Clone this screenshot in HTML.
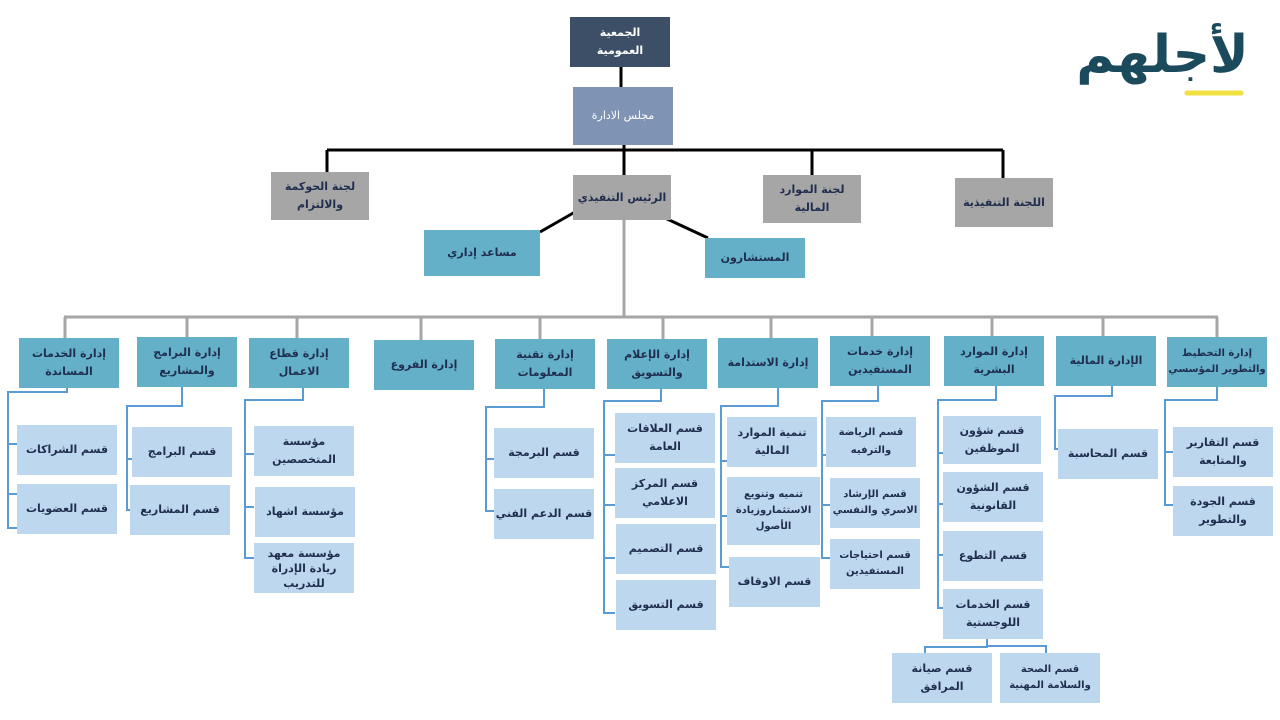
<!DOCTYPE html>
<html><head><meta charset="utf-8"><style>
body{margin:0;width:1280px;height:720px;background:#fff;position:relative;overflow:hidden;font-family:"DejaVu Sans","Liberation Sans",sans-serif}
.b{position:absolute;display:flex;align-items:center;justify-content:center;text-align:center;direction:rtl;font-size:11px;line-height:18px;color:#1f2d4e;font-weight:bold;box-sizing:border-box;padding:0 1px;letter-spacing:-0.2px}
.d{background:#65b0c9}
.l{background:#bdd7ee}
.g{background:#a6a6a6}
svg{position:absolute;left:0;top:0}
</style></head><body>
<svg width="1280" height="720">
<g stroke="#000" stroke-width="3" fill="none">
<line x1="621" y1="67" x2="621" y2="87"/>
<line x1="327" y1="150" x2="1003" y2="150"/>
<line x1="327" y1="150" x2="327" y2="172"/>
<line x1="624" y1="145" x2="624" y2="175"/>
<line x1="812" y1="150" x2="812" y2="175"/>
<line x1="1003" y1="150" x2="1003" y2="178"/>
<line x1="575" y1="212" x2="540" y2="232"/>
<line x1="665" y1="218" x2="708" y2="238"/>
</g>
<g stroke="#a6a6a6" stroke-width="3" fill="none">
<line x1="624" y1="220" x2="624" y2="317"/>
<line x1="64" y1="317" x2="1218" y2="317"/>
<line x1="65" y1="317" x2="65" y2="338"/><line x1="187" y1="317" x2="187" y2="337"/>
<line x1="297" y1="317" x2="297" y2="338"/><line x1="421" y1="317" x2="421" y2="340"/>
<line x1="540" y1="317" x2="540" y2="339"/><line x1="663" y1="317" x2="663" y2="339"/>
<line x1="771" y1="317" x2="771" y2="338"/><line x1="872" y1="317" x2="872" y2="336"/>
<line x1="992" y1="317" x2="992" y2="336"/><line x1="1103" y1="317" x2="1103" y2="336"/>
<line x1="1217" y1="317" x2="1217" y2="337"/>
</g>
<g stroke="#5b9bd5" stroke-width="2" fill="none">
<polyline points="67,388 67,392 8,392 8,528 17,528"/><line x1="8" y1="444" x2="17" y2="444"/><line x1="8" y1="494" x2="17" y2="494"/>
<polyline points="182,387 182,406 127,406 127,510 132,510"/><line x1="127" y1="459" x2="132" y2="459"/>
<polyline points="303,388 303,400 245,400 245,558 254,558"/><line x1="245" y1="454" x2="254" y2="454"/><line x1="245" y1="507" x2="254" y2="507"/>
<polyline points="544,389 544,407 486,407 486,511 494,511"/><line x1="486" y1="459" x2="494" y2="459"/>
<polyline points="661,389 661,401 604,401 604,613 615,613"/><line x1="604" y1="455" x2="615" y2="455"/><line x1="604" y1="505" x2="615" y2="505"/><line x1="604" y1="558" x2="615" y2="558"/>
<polyline points="778,388 778,406 721,406 721,567 729,567"/><line x1="721" y1="461" x2="727" y2="461"/><line x1="721" y1="516" x2="727" y2="516"/>
<polyline points="878,386 878,401 822,401 822,558 830,558"/><line x1="822" y1="455" x2="830" y2="455"/><line x1="822" y1="505" x2="830" y2="505"/>
<polyline points="996,386 996,400 938,400 938,608 943,608"/><line x1="938" y1="453" x2="943" y2="453"/><line x1="938" y1="504" x2="943" y2="504"/><line x1="938" y1="555" x2="943" y2="555"/>
<polyline points="987,639 987,647 925,647 925,653"/><polyline points="987,646 1046,646 1046,653"/>
<polyline points="1112,386 1112,396 1055,396 1055,449 1060,449"/>
<polyline points="1217,387 1217,400 1165,400 1165,505 1173,505"/><line x1="1165" y1="452" x2="1173" y2="452"/>
</g>
<line x1="1187" y1="93" x2="1241" y2="93" stroke="#f0e040" stroke-width="5" stroke-linecap="round"/>
</svg>
<div style="position:absolute;left:1075px;top:18px;width:175px;height:75px;font-size:52px;color:#1b4a5c;font-weight:bold;direction:rtl;text-align:center;line-height:75px">لأجلهم</div>

<div class="b" style="left:570px;top:17px;width:100px;height:50px;background:#3d4f66;color:#fff">الجمعية<br>العمومية</div>
<div class="b" style="left:573px;top:87px;width:100px;height:58px;background:#7f93b5;color:#fff;font-weight:normal">مجلس الادارة</div>
<div class="b g" style="left:271px;top:172px;width:98px;height:48px">لجنة الحوكمة والالتزام</div>
<div class="b g" style="left:573px;top:175px;width:98px;height:45px">الرئيس التنفيذي</div>
<div class="b g" style="left:763px;top:175px;width:98px;height:48px">لجنة الموارد المالية</div>
<div class="b g" style="left:955px;top:178px;width:98px;height:49px">اللجنة التنفيذية</div>
<div class="b d" style="left:424px;top:230px;width:116px;height:46px">مساعد إداري</div>
<div class="b d" style="left:705px;top:238px;width:100px;height:40px">المستشارون</div>

<div class="b d" style="left:19px;top:338px;width:100px;height:50px">إدارة الخدمات المساندة</div>
<div class="b d" style="left:137px;top:337px;width:100px;height:50px">إدارة البرامج والمشاريع</div>
<div class="b d" style="left:249px;top:338px;width:100px;height:50px">إدارة قطاع الاعمال</div>
<div class="b d" style="left:374px;top:340px;width:100px;height:50px">إدارة الفروع</div>
<div class="b d" style="left:495px;top:339px;width:100px;height:50px">إدارة تقنية المعلومات</div>
<div class="b d" style="left:607px;top:339px;width:100px;height:50px">إدارة الإعلام والتسويق</div>
<div class="b d" style="left:718px;top:338px;width:100px;height:50px">إدارة الاستدامة</div>
<div class="b d" style="left:830px;top:336px;width:100px;height:50px">إدارة خدمات المستفيدين</div>
<div class="b d" style="left:944px;top:336px;width:100px;height:50px">إدارة الموارد البشرية</div>
<div class="b d" style="left:1056px;top:336px;width:100px;height:50px">الإدارة المالية</div>
<div class="b d" style="left:1167px;top:337px;width:100px;height:50px;font-size:10px;line-height:16px">إدارة التخطيط والتطوير المؤسسي</div>

<div class="b l" style="left:17px;top:425px;width:100px;height:50px">قسم الشراكات</div>
<div class="b l" style="left:17px;top:484px;width:100px;height:50px">قسم العضويات</div>
<div class="b l" style="left:132px;top:427px;width:100px;height:50px">قسم البرامج</div>
<div class="b l" style="left:130px;top:485px;width:100px;height:50px">قسم المشاريع</div>
<div class="b l" style="left:254px;top:426px;width:100px;height:50px">مؤسسة المتخصصين</div>
<div class="b l" style="left:255px;top:487px;width:100px;height:50px">مؤسسة اشهاد</div>
<div class="b l" style="left:254px;top:543px;width:100px;height:50px;line-height:15px">مؤسسة معهد ريادة الإدراة للتدريب</div>
<div class="b l" style="left:494px;top:428px;width:100px;height:50px">قسم البرمجة</div>
<div class="b l" style="left:494px;top:489px;width:100px;height:50px">قسم الدعم الفني</div>
<div class="b l" style="left:615px;top:413px;width:100px;height:50px">قسم العلاقات العامة</div>
<div class="b l" style="left:615px;top:468px;width:100px;height:50px">قسم المركز الاعلامي</div>
<div class="b l" style="left:616px;top:524px;width:100px;height:50px">قسم التصميم</div>
<div class="b l" style="left:616px;top:580px;width:100px;height:50px">قسم التسويق</div>
<div class="b l" style="left:727px;top:417px;width:90px;height:50px">تنمية الموارد المالية</div>
<div class="b l" style="left:727px;top:477px;width:93px;height:68px;line-height:16px;font-size:10px">تنميه وتنويع الاستثماروزيادة الأصول</div>
<div class="b l" style="left:729px;top:557px;width:91px;height:50px">قسم الاوقاف</div>
<div class="b l" style="left:826px;top:417px;width:90px;height:50px;font-size:10px">قسم الرياضة والترفيه</div>
<div class="b l" style="left:830px;top:478px;width:90px;height:50px;font-size:10px;line-height:16px">قسم الإرشاد الاسري والنفسي</div>
<div class="b l" style="left:830px;top:539px;width:90px;height:50px;font-size:10px;line-height:16px">قسم احتياجات المستفيدين</div>
<div class="b l" style="left:943px;top:416px;width:98px;height:48px">قسم شؤون الموظفين</div>
<div class="b l" style="left:943px;top:472px;width:100px;height:50px">قسم الشؤون القانونية</div>
<div class="b l" style="left:943px;top:531px;width:100px;height:50px">قسم التطوع</div>
<div class="b l" style="left:943px;top:589px;width:100px;height:50px">قسم الخدمات اللوجستية</div>
<div class="b l" style="left:892px;top:653px;width:100px;height:50px">قسم صيانة المرافق</div>
<div class="b l" style="left:1000px;top:653px;width:100px;height:50px;font-size:10px;line-height:16px">قسم الصحة والسلامة المهنية</div>
<div class="b l" style="left:1058px;top:429px;width:100px;height:50px">قسم المحاسبة</div>
<div class="b l" style="left:1173px;top:427px;width:100px;height:50px">قسم التقارير والمتابعة</div>
<div class="b l" style="left:1173px;top:486px;width:100px;height:50px">قسم الجودة والتطوير</div>
</body></html>
